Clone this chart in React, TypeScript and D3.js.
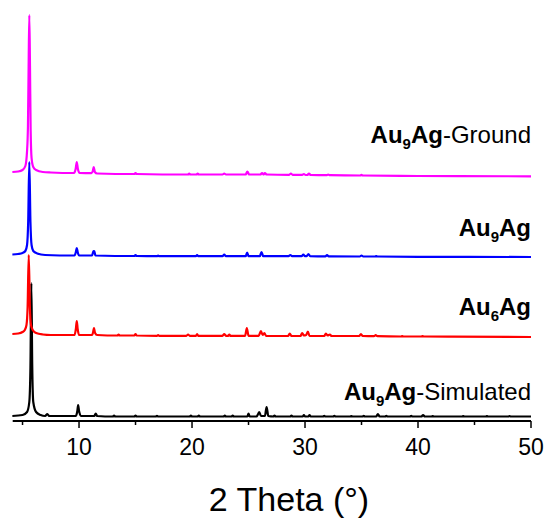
import React from "react";
import * as d3 from "d3";

type Pt = [number, number];

// 2θ (deg), intensity above each trace's baseline (arbitrary units)
const simulated: Pt[] = [[4.1,1],[5.0,2],[5.4,5],[5.6,15],[5.7,50],[5.78,134],[5.86,50],[5.95,15],[6.2,5],[6.6,2],[7.0,1],[7.2,3],[7.35,1],[9.7,1],[9.85,6],[9.92,12],[10.0,6],[10.2,1],[11.35,1],[11.48,3.5],[11.6,1],[13.0,0.5],[13.1,1.5],[13.2,0.5],[14.9,0.5],[15.0,1.5],[15.1,0.5],[16.8,0.5],[16.9,1.2],[17.0,0.5],[19.8,0.5],[19.9,1.5],[20.0,0.5],[20.5,0.5],[20.6,1.5],[20.7,0.5],[22.8,0.5],[22.9,1.5],[23.0,0.5],[23.5,0.5],[23.6,1.5],[23.7,0.5],[24.9,0.5],[25.0,3.5],[25.1,0.5],[25.7,0.5],[25.85,3],[25.95,5],[26.1,1],[26.45,1],[26.6,10],[26.75,1],[27.2,0.5],[27.3,1.5],[27.4,0.5],[28.7,0.5],[28.8,1.5],[28.9,0.5],[29.8,0.5],[29.9,2],[30.0,0.5],[30.3,0.5],[30.4,2],[30.5,0.5],[31.6,0.5],[31.7,1.2],[31.8,0.5],[32.5,0.5],[32.6,1.2],[32.7,0.5],[34.0,0.5],[34.1,1],[34.2,0.5],[35.1,0.5],[35.2,1.2],[35.3,0.5],[36.3,0.5],[36.45,3],[36.6,0.5],[37.1,0.5],[37.2,1.2],[37.3,0.5],[39.3,0.5],[39.4,1.2],[39.5,0.5],[40.3,0.5],[40.45,2],[40.6,0.5],[41.2,0.5],[41.3,1],[41.4,0.5],[43.9,0.5],[44.0,1],[44.1,0.5],[46.0,0.5],[46.1,1],[46.2,0.5],[48.0,0.5],[48.1,0.8],[48.2,0.5],[50,0.5]];

const au6ag: Pt[] = [[4.1,3],[4.6,3.5],[5.0,5],[5.2,7],[5.35,12],[5.45,30],[5.55,82],[5.65,30],[5.75,12],[5.9,7],[6.2,4],[6.8,2.5],[7.5,2],[9.6,2],[9.72,8],[9.8,16],[9.88,8],[10.0,2],[11.15,2],[11.25,5],[11.32,9],[11.42,4],[11.6,2],[13.4,1.5],[13.5,2.5],[13.6,1.5],[14.9,1.5],[15.0,3],[15.1,1.5],[16.9,1.2],[17.0,2],[17.1,1.2],[19.5,1.2],[19.65,2.5],[19.8,1.2],[20.35,1.2],[20.45,3],[20.55,1.2],[22.7,1.2],[22.85,3],[23.0,1.2],[23.2,1.2],[23.3,2.5],[23.4,1.2],[24.7,1.2],[24.85,9],[25.0,1.2],[25.9,1.2],[26.1,6],[26.25,2],[26.4,4],[26.55,1.2],[28.5,1],[28.65,3.5],[28.8,1],[29.6,1],[29.75,4],[29.9,1.5],[30.1,2],[30.25,5.5],[30.4,1],[31.7,1],[31.85,3.5],[32.0,1.5],[32.2,2.5],[32.35,1],[34.8,1],[34.95,3],[35.1,1],[36.1,0.8],[36.25,1.8],[36.4,0.8],[38.5,0.5],[38.6,1],[38.7,0.5],[40.3,0.5],[40.4,1],[40.5,0.5],[43,0.3],[50,0]];

const au9ag: Pt[] = [[4.1,2.5],[4.6,3],[5.0,4],[5.25,6],[5.4,12],[5.5,35],[5.6,95],[5.7,35],[5.8,12],[5.95,6],[6.3,3.5],[7.0,2],[9.6,1.5],[9.72,5],[9.8,9],[9.88,5],[10.0,1.5],[11.15,1.5],[11.28,6],[11.35,6],[11.45,1.5],[14.9,1],[15.0,2],[15.1,1],[16.9,0.8],[17.0,1.5],[17.1,0.8],[20.35,0.8],[20.45,2],[20.55,0.8],[22.7,0.8],[22.85,2.5],[23.0,0.8],[24.75,0.8],[24.88,4.5],[25.0,0.8],[26.0,0.8],[26.15,5],[26.3,0.8],[28.55,0.8],[28.7,2],[28.85,0.8],[29.7,0.8],[29.85,2.5],[30.0,0.8],[30.15,0.8],[30.3,3],[30.45,0.8],[31.8,0.6],[31.95,2],[32.1,0.6],[34.85,0.5],[35.0,1.5],[35.15,0.5],[36.2,0.5],[36.3,1],[36.4,0.5],[40,0.2],[50,0]];

const ground: Pt[] = [[4.1,4],[4.6,4.5],[5.0,6],[5.25,10],[5.4,25],[5.48,50],[5.54,110],[5.6,161],[5.66,110],[5.72,45],[5.8,18],[5.95,9],[6.2,6],[6.8,4],[7.5,3.5],[9.55,3],[9.7,7],[9.8,14],[9.9,7],[10.05,3],[11.1,2.8],[11.22,5],[11.3,9],[11.4,4],[11.6,2.5],[14.9,2],[15.0,3],[15.1,2],[19.65,1.5],[19.75,2.5],[19.85,1.5],[20.4,1.5],[20.5,2.5],[20.6,1.5],[22.7,1.5],[22.85,2.5],[23.0,1.5],[24.75,1.5],[24.9,4.5],[25.05,1.5],[26.05,1.5],[26.2,3],[26.35,1.5],[26.45,3],[26.6,1.5],[28.6,1.2],[28.75,2.5],[28.9,1.2],[29.75,1.2],[29.9,2],[30.05,1],[30.2,1],[30.35,2.5],[30.5,1],[31.9,0.8],[32.05,1.5],[32.2,0.8],[34.9,0.5],[35.0,1.2],[35.1,0.5],[40,0],[50,-0.3]];

const seriesNames = ["Simulated", "Au6Ag", "Au9Ag", "Ground"];
const seriesOffsets = [0, 80, 160, 241];
const seriesColors = ["#000000", "#FF0000", "#0000FF", "#FF00FF"];
const seriesData = [simulated, au6ag, au9ag, ground];

const majorTicks = [10, 20, 30, 40, 50];
const minorTicks = [5, 15, 25, 35, 45];
const xTitle = "2 Theta (°)";

const FONT = "Arial, 'Liberation Sans', sans-serif";

export default function App() {
  const x = d3.scaleLinear().domain([4.13, 50]).range([12.7, 531]);
  const y = d3.scaleLinear().domain([-4, 402]).range([421, 15]);
  const axisY = y(-4);

  const labels = [
    { main: "Au", sub: "9", rest: "Ag", suffix: "-Simulated", base: 400 },
    { main: "Au", sub: "6", rest: "Ag", suffix: "", base: 315 },
    { main: "Au", sub: "9", rest: "Ag", suffix: "", base: 236 },
    { main: "Au", sub: "9", rest: "Ag", suffix: "-Ground", base: 143 },
  ];

  return (
    <svg width={548} height={520} style={{ position: "absolute", left: 0, top: 0, background: "#fff" }} fontFamily={FONT}>
      {seriesData.map((d, i) => {
        const line = d3
          .line<Pt>()
          .x((p) => x(p[0]))
          .y((p) => y(p[1] + seriesOffsets[i]))
          .curve(d3.curveMonotoneX);
        return (
          <path key={seriesNames[i]} d={line(d) || ""} fill="none" stroke={seriesColors[i]} strokeWidth={2.2} strokeLinejoin="round" />
        );
      })}
      {/* x axis */}
      <line x1={x(4.13)} x2={x(50)} y1={axisY} y2={axisY} stroke="#000" strokeWidth={2} />
      {majorTicks.map((t) => (
        <g key={"M" + t}>
          <line x1={x(t)} x2={x(t)} y1={axisY} y2={axisY + 7} stroke="#000" strokeWidth={1.5} />
          <text x={x(t)} y={455} textAnchor="middle" fontSize={23} fill="#000">{t}</text>
        </g>
      ))}
      {minorTicks.map((t) => (
        <line key={"m" + t} x1={x(t)} x2={x(t)} y1={axisY} y2={axisY + 4} stroke="#000" strokeWidth={1.5} />
      ))}
      <text x={289} y={511} textAnchor="middle" fontSize={34} fill="#000">{xTitle}</text>
      {labels.map((l, i) => (
        <text key={i} x={531} y={l.base} textAnchor="end" fontSize={24} fill="#000">
          <tspan fontWeight="bold">{l.main}</tspan>
          <tspan fontWeight="bold" fontSize={15} dy={6}>{l.sub}</tspan>
          <tspan fontWeight="bold" dy={-6}>{l.rest}</tspan>
          {l.suffix && <tspan>{l.suffix}</tspan>}
        </text>
      ))}
    </svg>
  );
}
